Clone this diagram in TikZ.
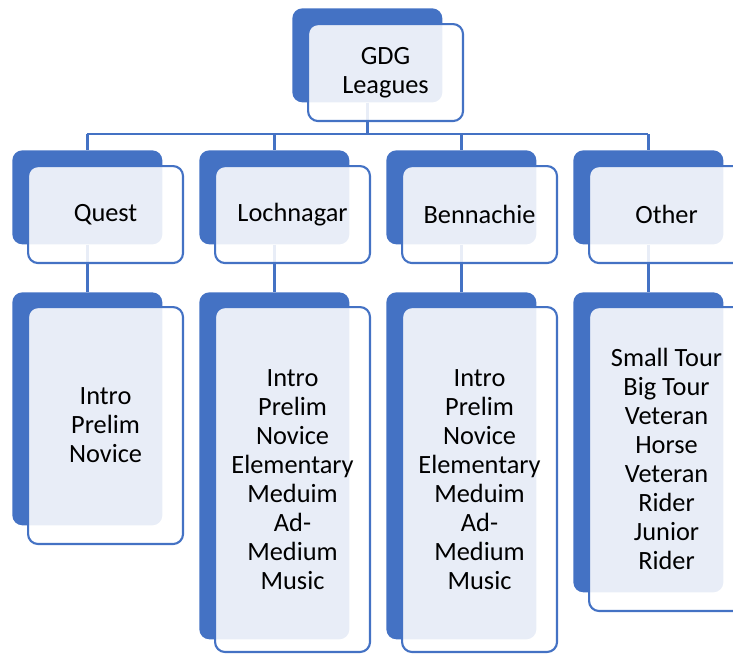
\documentclass[tikz,border=0pt]{standalone}
\usepackage{fontspec}
\setmainfont{Carlito}
\usepackage{xcolor}
\definecolor{gdgblue}{HTML}{4472C4}
\tikzset{
	backbox/.style={anchor=north west, fill=gdgblue, rounded corners=0.2cm, minimum width=3cm, inner sep=0pt},
	frontbox/.style={anchor=north west, draw=gdgblue, line width=1.2pt, fill=white, fill opacity=0.88, text opacity=1, rounded corners=0.2cm, minimum width=3.1cm, inner sep=0pt, align=center, font=\fontsize{15}{16.5}\selectfont},
	link/.style={draw=gdgblue, line width=1.4pt}
}
\begin{document}
\begin{tikzpicture}[x=0.02cm, y=-0.02cm]
	\clip (0,0) rectangle (733,654);
	\useasboundingbox (0,0) rectangle (733,654);
	% back boxes
	\node[backbox, minimum height=1.88cm] (gdgB) at (292,8) {};
	\node[backbox, minimum height=1.88cm] (questB) at (12,150) {};
	\node[backbox, minimum height=1.88cm] (lochB) at (199,150) {};
	\node[backbox, minimum height=1.88cm] (bennB) at (386,150) {};
	\node[backbox, minimum height=1.88cm] (otherB) at (573,150) {};
	\node[backbox, minimum height=4.66cm] (questL) at (12,292) {};
	\node[backbox, minimum height=6.94cm] (lochL) at (199,292) {};
	\node[backbox, minimum height=6.94cm] (bennL) at (386,292) {};
	\node[backbox, minimum height=6.0cm] (otherL) at (573,292) {};
	% connectors
	\coordinate (bar) at (0,134);
	\draw[link] (gdgB.south) -- (gdgB.south |- bar);
	\draw[link] (questB.north |- bar) -- (otherB.north |- bar);
	\draw[link] (questB.north |- bar) -- (questB.north);
	\draw[link] (lochB.north |- bar) -- (lochB.north);
	\draw[link] (bennB.north |- bar) -- (bennB.north);
	\draw[link] (otherB.north |- bar) -- (otherB.north);
	\draw[link] (questB.south) -- (questL.north);
	\draw[link] (lochB.south) -- (lochL.north);
	\draw[link] (bennB.south) -- (bennL.north);
	\draw[link] (otherB.south) -- (otherL.north);
	% front boxes
	\node[frontbox, minimum height=1.94cm] (gdg) at (307,23) {GDG\\Leagues};
	\node[frontbox, minimum height=1.94cm] (quest) at (27,165) {Quest};
	\node[frontbox, minimum height=1.94cm] (loch) at (214,165) {Lochnagar};
	\node[frontbox, minimum height=1.94cm] (benn) at (401,165) {Bennachie};
	\node[frontbox, minimum height=1.94cm] (other) at (588,165) {Other};
	\node[frontbox, minimum height=4.74cm] (questList) at (27,306) {Intro\\Prelim\\Novice};
	\node[frontbox, minimum height=6.9cm] (lochList) at (214,306) {Intro\\Prelim\\Novice\\Elementary\\Meduim\\Ad-\\Medium\\Music};
	\node[frontbox, minimum height=6.9cm] (bennList) at (401,306) {Intro\\Prelim\\Novice\\Elementary\\Meduim\\Ad-\\Medium\\Music};
	\node[frontbox, minimum height=6.08cm] (otherList) at (588,306) {Small Tour\\Big Tour\\Veteran\\Horse\\Veteran\\Rider\\Junior\\Rider};
\end{tikzpicture}
\end{document}
